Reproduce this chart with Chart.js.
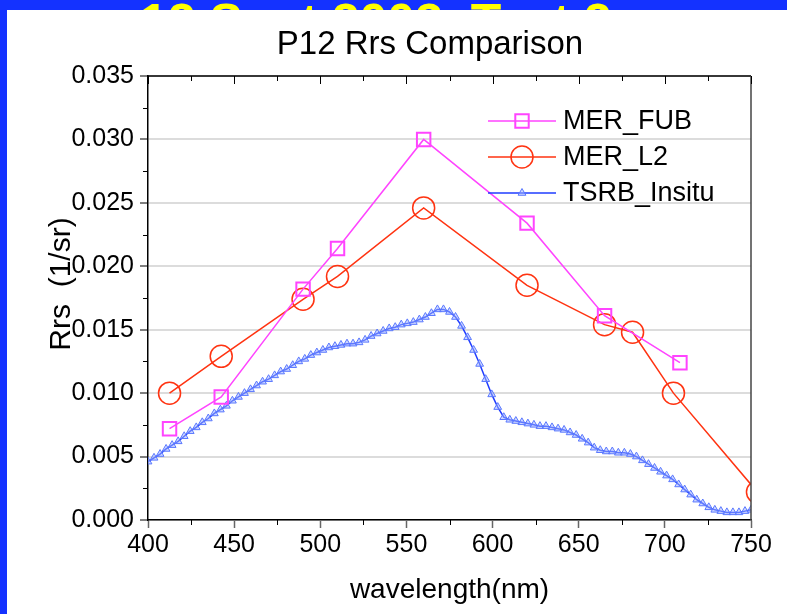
<!DOCTYPE html>
<html>
<head>
<meta charset="utf-8">
<script src="https://cdn.jsdelivr.net/npm/chart.js@4.4.0/dist/chart.umd.min.js"></script>
<style>
  html, body { margin: 0; padding: 0; }
  body { width: 787px; height: 614px; background: #1432ff; position: relative; overflow: hidden; }
  #banner {
    position: absolute; left: 140px; top: -3px; margin: 0;
    font: bold 50px/50px "Liberation Sans", Arial, sans-serif; color: #ffff00; white-space: nowrap;
  }
  #panel { position: absolute; left: 7px; top: 10px; width: 780px; height: 604px; background: #fff; }
  #chart { display: block; }
</style>
</head>
<body>
<div id="banner">12 Sept 2003, Test 2</div>
<div id="panel"><canvas id="chart" width="780" height="604"></canvas></div>
<script>
// --- datos ---
const fubWl = [412.5, 442.5, 490, 510, 560, 620, 665, 708.75];
const fubRrs = [0.0072, 0.0097, 0.0182, 0.0214, 0.0300, 0.0234, 0.0161, 0.0124];

const l2Wl = [412.5, 442.5, 490, 510, 560, 620, 665, 681.25, 705, 753.75];
const l2Rrs = [0.0100, 0.0129, 0.0174, 0.0192, 0.0246, 0.0185, 0.0154, 0.0148, 0.0100, 0.0022];

const tsrbWl = [
  400, 403.5, 407, 410.5, 414, 417.5, 421, 424.5, 428, 431.5,
  435, 438.5, 442, 445.5, 449, 452.5, 456, 459.5, 463, 466.5,
  470, 473.5, 477, 480.5, 484, 487.5, 491, 494.5, 498, 501.5,
  505, 508.5, 512, 515.5, 519, 522.5, 526, 529.5, 533, 536.5,
  540, 543.5, 547, 550.5, 554, 557.5, 561, 564.5, 568, 571.5,
  575, 578.5, 582, 585.5, 589, 592.5, 596, 599.5, 603, 606.5,
  610, 613.5, 617, 620.5, 624, 627.5, 631, 634.5, 638, 641.5,
  645, 648.5, 652, 655.5, 659, 662.5, 666, 669.5, 673, 676.5,
  680, 683.5, 687, 690.5, 694, 697.5, 701, 704.5, 708, 711.5,
  715, 718.5, 722, 725.5, 729, 732.5, 736, 739.5, 743, 746.5, 750
];
const tsrbRrs = [
  0.0046, 0.0049, 0.0052, 0.0056, 0.0059, 0.0062, 0.0066, 0.0070, 0.0073, 0.0077,
  0.0080, 0.0084, 0.0087, 0.0090, 0.0094, 0.0097, 0.0100, 0.0103, 0.0106, 0.0109,
  0.0111, 0.0114, 0.0117, 0.0119, 0.0122, 0.0125, 0.0127, 0.0130, 0.0132, 0.0134,
  0.0136, 0.0137, 0.0138, 0.0139, 0.0139, 0.0140, 0.0142, 0.0145, 0.0147, 0.0149,
  0.0151, 0.0152, 0.0154, 0.0155, 0.0156, 0.0158, 0.0160, 0.0163, 0.0166, 0.0166,
  0.0164, 0.0160, 0.0153, 0.0144, 0.0134, 0.0123, 0.0111, 0.0099, 0.0089, 0.0081,
  0.0079, 0.0078, 0.0077, 0.0076, 0.0075, 0.0074, 0.0074, 0.0073, 0.0072, 0.0071,
  0.0069, 0.0067, 0.0064, 0.0061, 0.0057, 0.0055, 0.0054, 0.0054, 0.0053, 0.0053,
  0.0052, 0.0050, 0.0047, 0.0044, 0.0041, 0.0038, 0.0035, 0.0032, 0.0028, 0.0024,
  0.0020, 0.0016, 0.0013, 0.0010, 0.0008, 0.0007, 0.0006, 0.0006, 0.0006, 0.0007, 0.0008
];

const xMinorTicks = [425, 475, 525, 575, 625, 675, 725];
const xMajorTicks = [400, 450, 500, 550, 600, 650, 700, 750];
const yMinorTicks = [0.0025, 0.0075, 0.0125, 0.0175, 0.0225, 0.0275, 0.0325];

const FONT = '"Liberation Sans", Arial, sans-serif';

const pares = (xs, ys) => xs.map((x, i) => ({ x, y: ys[i] }));

// --- adornos: marco, ticks menores, titulos, leyenda ---
const decor = {
  id: 'decor',
  afterDraw(chart) {
    const { ctx, chartArea: a, scales: { x, y } } = chart;
    ctx.save();
    ctx.lineCap = 'butt';

    // marco superior y derecho
    ctx.strokeStyle = '#000';
    ctx.lineWidth = 1.5;
    ctx.beginPath(); ctx.moveTo(a.left, a.top); ctx.lineTo(a.right, a.top); ctx.stroke();
    ctx.strokeStyle = '#444';
    ctx.beginPath(); ctx.moveTo(a.right, a.top); ctx.lineTo(a.right, a.bottom); ctx.stroke();

    // ticks
    ctx.strokeStyle = '#000';
    ctx.lineWidth = 1;
    xMajorTicks.forEach(v => {
      const px = Math.round(x.getPixelForValue(v)) + 0.5;
      ctx.beginPath(); ctx.moveTo(px, a.top); ctx.lineTo(px, a.top + 8); ctx.stroke();
    });
    xMinorTicks.forEach(v => {
      const px = Math.round(x.getPixelForValue(v)) + 0.5;
      ctx.beginPath(); ctx.moveTo(px, a.top); ctx.lineTo(px, a.top + 5); ctx.stroke();
      ctx.beginPath(); ctx.moveTo(px, a.bottom); ctx.lineTo(px, a.bottom + 5); ctx.stroke();
    });
    yMinorTicks.forEach(v => {
      const py = Math.round(y.getPixelForValue(v)) + 0.5;
      ctx.beginPath(); ctx.moveTo(a.left - 5, py); ctx.lineTo(a.left, py); ctx.stroke();
    });

    ctx.fillStyle = '#000';
    ctx.textAlign = 'center';
    ctx.textBaseline = 'middle';

    // titulo
    ctx.font = '33px ' + FONT;
    ctx.fillText('P12 Rrs Comparison', 423, 35);

    // titulo eje y (encima de las etiquetas)
    ctx.save();
    ctx.translate(55, 274);
    ctx.rotate(-Math.PI / 2);
    ctx.font = '30px ' + FONT;
    ctx.fillText('Rrs  (1/sr)', 0, 0);
    ctx.restore();

    // leyenda
    ctx.textAlign = 'left';
    ctx.font = '27px ' + FONT;
    chart.data.datasets.forEach((ds, i) => {
      const ry = 111 + 36 * i;
      ctx.strokeStyle = ds.borderColor;
      ctx.lineWidth = ds.borderWidth;
      ctx.beginPath(); ctx.moveTo(481, ry); ctx.lineTo(549, ry); ctx.stroke();
      ctx.strokeStyle = ds.pointBorderColor;
      ctx.fillStyle = ds.pointBackgroundColor;
      ctx.lineWidth = ds.pointBorderWidth;
      Chart.helpers.drawPoint(ctx, {
        pointStyle: ds.pointStyle, radius: ds.pointRadius, rotation: 0, borderWidth: ds.pointBorderWidth
      }, 515, ry);
      ctx.fillStyle = '#000';
      ctx.fillText(ds.label, 556, ry + 1);
    });
    ctx.restore();
  }
};

new Chart(document.getElementById('chart'), {
  type: 'line',
  data: {
    datasets: [
      {
        label: 'MER_FUB',
        data: pares(fubWl, fubRrs),
        borderColor: '#ff44ff', borderWidth: 1.5,
        pointStyle: 'rect', pointRadius: 9.5, pointBorderWidth: 2,
        pointBorderColor: '#ff44ff', pointBackgroundColor: 'rgba(0,0,0,0)',
        clip: 0
      },
      {
        label: 'MER_L2',
        data: pares(l2Wl, l2Rrs),
        borderColor: '#ff3311', borderWidth: 1.5,
        pointStyle: 'circle', pointRadius: 11, pointBorderWidth: 1.5,
        pointBorderColor: '#ff3311', pointBackgroundColor: 'rgba(0,0,0,0)',
        clip: 0
      },
      {
        label: 'TSRB_Insitu',
        data: pares(tsrbWl, tsrbRrs),
        borderColor: '#1f3cff', borderWidth: 1.5,
        pointStyle: 'triangle', pointRadius: 4.5, pointBorderWidth: 1,
        pointBorderColor: '#5a78ff', pointBackgroundColor: 'rgba(160,180,255,0.5)',
        clip: 0
      }
    ]
  },
  options: {
    responsive: false,
    animation: false,
    devicePixelRatio: 1,
    layout: { padding: { top: 66, right: 36, left: 0, bottom: 0 } },
    plugins: { legend: { display: false }, tooltip: { enabled: false }, title: { display: false } },
    scales: {
      x: {
        type: 'linear', min: 400, max: 750,
        afterFit: s => { s.height = 94; },
        ticks: { stepSize: 50, padding: 2, color: '#000', font: { family: FONT, size: 25 } },
        grid: { drawOnChartArea: false, drawTicks: true, tickLength: 8, tickColor: '#666', tickWidth: 1.5 },
        border: { display: true, color: '#000', width: 1.5 },
        title: { display: true, text: 'wavelength(nm)', color: '#000', font: { family: FONT, size: 28 }, padding: { top: 0, bottom: 7 } }
      },
      y: {
        min: 0, max: 0.035,
        afterFit: s => { s.width = 141; },
        ticks: { stepSize: 0.005, padding: 6, color: '#000', font: { family: FONT, size: 25 }, callback: v => v.toFixed(3) },
        grid: { color: '#dcdcdc', lineWidth: 2, drawTicks: true, tickLength: 8, tickColor: '#000', tickWidth: 1 },
        border: { display: true, color: '#000', width: 1.5 }
      }
    }
  },
  plugins: [decor]
});
</script>
</body>
</html>
